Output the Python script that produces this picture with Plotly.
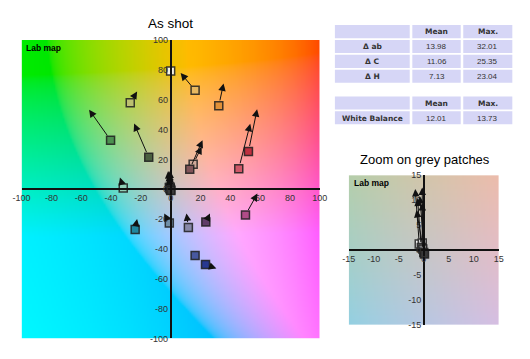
import base64
import struct
import zlib
import numpy as np
import plotly.graph_objects as go

# ---------------- data ----------------
# colour patches: measured (square) and reference (arrow tip) in a*, b*
patch_a = [0, 16.4, 32.3, -27.1, -40.3, -14.7, 52.2, 45.7, 15.1, 12.8,
           -31.8, -23.8, -0.9, 11.9, 23.6, 50.2, 16.4, 23.4]
patch_b = [79.3, 66.3, 55.9, 57.9, 32.9, 21.4, 25.3, 13.8, 16.8, 13.4,
           0.8, -27.0, -22.7, -25.7, -22.0, -17.3, -44.4, -50.5]
ref_a = [0, 6.7, 35.5, -22.5, -54.7, -24.5, 58.0, 53.4, 20.8, 21.4,
         -34.0, -22.5, -4.3, 10.6, 26.4, 58.2, 16.4, 30.7]
ref_b = [79.3, 77.9, 70.9, 65.5, 53.3, 44.0, 53.6, 43.8, 28.5, 32.9,
         7.9, -19.9, -16.2, -16.2, -16.2, -2.9, -44.4, -53.1]
patch_colors = ['#f6f2e2', '#e8b860', '#e09038', '#bcc070', '#4c9050', '#4a6040',
                '#c03040', '#d05868', '#d0a898', '#805458', '#90d0b8', '#2088a0',
                '#7090a8', '#8888a8', '#603c68', '#b04c88', '#4858a0', '#283890']

# grey patches
grey_a = [-0.9, -0.3, -0.5, -0.2, 0.0, 0.15]
grey_b = [1.2, 1.4, 0.5, 0.2, -0.5, -0.8]
grey_ref_a = [-1.7, -0.3, -1.25, -0.3, -1.45, -0.8]
grey_ref_b = [12.2, 12.5, 10.3, 9.4, 8.0, 10.8]
grey_colors = ['#f8f8f8', '#d0d0d0', '#a8a8a8', '#808080', '#585858', '#383838']

main_ticks = list(range(-100, 101, 20))
zoom_ticks = list(range(-15, 16, 5))

table_head = ['', 'Mean', 'Max.']
table1_rows = ['Δ ab', 'Δ C', 'Δ H']
table1_mean = ['13.98', '11.06', '7.13']
table1_max = ['32.01', '25.35', '23.04']
table2_rows = ['White Balance']
table2_mean = ['12.01']
table2_max = ['13.73']


# ---------------- background Lab map ----------------
def lab_map_png(lo, hi, n, L=80.0):
    d = (hi - lo) / n
    c = lo + d / 2 + d * np.arange(n)
    A, B = np.meshgrid(c, c[::-1])  # top row = highest b*
    fy = (L + 16) / 116.0
    fx = fy + A / 500.0
    fz = fy - B / 200.0

    def finv(t):
        return np.where(t > 6 / 29, t ** 3, 3 * (6 / 29) ** 2 * (t - 4 / 29))
    X = 0.95047 * finv(fx)
    Y = finv(np.full_like(A, fy))
    Z = 1.08883 * finv(fz)
    r = 3.2406 * X - 1.5372 * Y - 0.4986 * Z
    g = -0.9689 * X + 1.8758 * Y + 0.0415 * Z
    b = 0.0557 * X - 0.2040 * Y + 1.0570 * Z
    rgb = np.clip(np.stack([r, g, b], axis=-1), 0, 1)
    rgb = np.where(rgb <= 0.0031308, 12.92 * rgb, 1.055 * rgb ** (1 / 2.4) - 0.055)
    arr = (rgb * 255).round().astype(np.uint8)
    raw = b''.join(b'\x00' + arr[i].tobytes() for i in range(n))

    def chunk(tag, data):
        return (struct.pack('>I', len(data)) + tag + data +
                struct.pack('>I', zlib.crc32(tag + data) & 0xffffffff))
    png = (b'\x89PNG\r\n\x1a\n' +
           chunk(b'IHDR', struct.pack('>IIBBBBB', n, n, 8, 2, 0, 0, 0)) +
           chunk(b'IDAT', zlib.compress(raw, 9)) + chunk(b'IEND', b''))
    return 'data:image/png;base64,' + base64.b64encode(png).decode()


W, H = 530, 359
def px(x):
    return x / W
def py(y):
    return 1 - y / H

main_dom_x = [px(13), px(321)]
main_dom_y = [py(343), py(36)]
zoom_dom_x = [px(351), px(506)]
zoom_dom_y = [py(329), py(175)]

fig = go.Figure()
annotations = []
shapes = []


def add_arrows(xs, ys, txs, tys, xr, yr):
    for x0, y0, x1, y1 in zip(xs, ys, txs, tys):
        if abs(x1 - x0) + abs(y1 - y0) < 1e-6:
            continue
        annotations.append(dict(
            x=x1, y=y1, ax=x0, ay=y0, xref=xr, yref=yr, axref=xr, ayref=yr,
            showarrow=True, text='', arrowhead=2, arrowsize=1.5, arrowwidth=1,
            arrowcolor='#111111', startstandoff=4, standoff=0))


mk_line = dict(color='rgba(30,30,30,0.85)', width=1.5)
# main plot patches
fig.add_trace(go.Scatter(x=patch_a, y=patch_b, mode='markers', xaxis='x', yaxis='y',
                         marker=dict(symbol='square', size=8, color=patch_colors, line=mk_line),
                         hoverinfo='skip', showlegend=False))
fig.add_trace(go.Scatter(x=grey_a, y=grey_b, mode='markers', xaxis='x', yaxis='y',
                         marker=dict(symbol='square', size=8, color=grey_colors, line=mk_line),
                         hoverinfo='skip', showlegend=False))
add_arrows(patch_a, patch_b, ref_a, ref_b, 'x', 'y')
add_arrows(grey_a, grey_b, grey_ref_a, grey_ref_b, 'x', 'y')

# zoom plot
fig.add_trace(go.Scatter(x=grey_a, y=grey_b, mode='markers', xaxis='x2', yaxis='y2',
                         marker=dict(symbol='square', size=8, color=grey_colors, line=mk_line),
                         hoverinfo='skip', showlegend=False))
add_arrows(grey_a, grey_b, grey_ref_a, grey_ref_b, 'x2', 'y2')

# ---------------- tables (drawn as cells) ----------------
col_edges = [(336.7, 414.0), (416.7, 466.7), (469.3, 520.0)]
cell_h, pitch = 13.4, 15.3
cell_fill = '#d6d6f6'
tfont_b = dict(family='DejaVu Sans', size=7.5, color='#333333')
tfont_v = dict(family='Liberation Sans, Arial', size=8, color='#333333')


def draw_table(top, rows, means, maxs):
    grid = [table_head] + [[r, m, x] for r, m, x in zip(rows, means, maxs)]
    for i, row in enumerate(grid):
        y0 = top + i * pitch
        for j, txt in enumerate(row):
            x0, x1 = col_edges[j]
            shapes.append(dict(type='rect', xref='paper', yref='paper',
                               x0=px(x0), x1=px(x1), y0=py(y0 + cell_h), y1=py(y0),
                               fillcolor=cell_fill, line=dict(width=0), layer='below'))
            if txt:
                bold = (i == 0) or (j == 0)
                annotations.append(dict(
                    text='<b>%s</b>' % txt if bold else txt,
                    x=px((x0 + x1) / 2), y=py(y0 + cell_h / 2 + 0.3), xref='paper', yref='paper',
                    showarrow=False, xanchor='center', yanchor='middle',
                    font=tfont_b if bold else tfont_v))


draw_table(20.7, table1_rows, table1_mean, table1_max)
draw_table(94.0, table2_rows, table2_mean, table2_max)

tickfont = dict(family='Liberation Sans, Arial', size=9, color='#333333')
ax_common = dict(showgrid=False, zeroline=False, showline=True, linecolor='#111111',
                 linewidth=1.5, ticks='', tickfont=tickfont, anchor='free')

fig.update_layout(
    width=W, height=H, margin=dict(l=0, r=0, t=0, b=0),
    paper_bgcolor='white', plot_bgcolor='rgba(0,0,0,0)', showlegend=False,
    xaxis=dict(domain=main_dom_x, range=[-100, 100], tickvals=main_ticks,
               ticktext=[str(t) for t in main_ticks],
               position=(main_dom_y[0] + main_dom_y[1]) / 2, **ax_common),
    yaxis=dict(domain=main_dom_y, range=[-100, 100], tickvals=main_ticks,
               ticktext=[str(t) for t in main_ticks],
               position=(main_dom_x[0] + main_dom_x[1]) / 2, **ax_common),
    xaxis2=dict(domain=zoom_dom_x, range=[-15, 15], tickvals=zoom_ticks,
                ticktext=[str(t) for t in zoom_ticks],
                position=(zoom_dom_y[0] + zoom_dom_y[1]) / 2, **ax_common),
    yaxis2=dict(domain=zoom_dom_y, range=[-15, 15], tickvals=zoom_ticks,
                ticktext=[str(t) for t in zoom_ticks],
                position=(zoom_dom_x[0] + zoom_dom_x[1]) / 2, **ax_common),
    images=[
        dict(source=lab_map_png(-100, 100, 160), xref='x', yref='y', x=-100, y=100,
             sizex=200, sizey=200, sizing='stretch', xanchor='left', yanchor='top',
             layer='below'),
        dict(source=lab_map_png(-15, 15, 80), xref='x2', yref='y2', x=-15, y=15,
             sizex=30, sizey=30, sizing='stretch', xanchor='left', yanchor='top',
             layer='below'),
    ],
)

annotations += [
    dict(text='As shot', x=px(167), y=py(19), xref='paper', yref='paper', showarrow=False,
         font=dict(family='Liberation Sans, Arial', size=13.5, color='black'),
         xanchor='center', yanchor='middle'),
    dict(text='Zoom on grey patches', x=px(430), y=py(159), xref='paper', yref='paper',
         showarrow=False, font=dict(family='Liberation Sans, Arial', size=13, color='black'),
         xanchor='center', yanchor='middle'),
    dict(text='<b>Lab map</b>', x=px(16), y=py(44), xref='paper', yref='paper',
         showarrow=False, font=dict(family='Liberation Sans, Arial', size=8.5, color='black'),
         xanchor='left', yanchor='middle'),
    dict(text='<b>Lab map</b>', x=px(354), y=py(183), xref='paper', yref='paper',
         showarrow=False, font=dict(family='Liberation Sans, Arial', size=8.5, color='black'),
         xanchor='left', yanchor='middle'),
]
fig.update_layout(annotations=annotations, shapes=shapes)

fig.write_html('out.html')
